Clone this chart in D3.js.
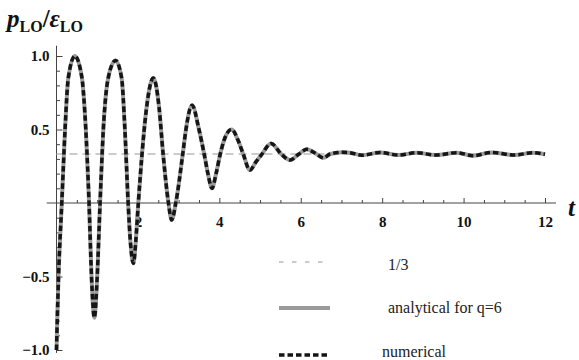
<!DOCTYPE html>
<html>
<head>
<meta charset="utf-8">
<script src="https://cdn.jsdelivr.net/npm/d3@7"></script>
<style>
  body { margin: 0; background: #fff; }
  text { font-family: "Liberation Serif", "DejaVu Serif", serif; }
</style>
</head>
<body>
<div id="chart"></div>
<script>
// values
const tValues = [0, 0.02, 0.05, 0.13, 0.21, 0.29, 0.45, 0.62, 0.72, 0.80, 0.86, 0.93,
  1.00, 1.07, 1.15, 1.27, 1.45, 1.60, 1.68, 1.76, 1.82, 1.89, 1.95, 2.01, 2.10, 2.20,
  2.38, 2.52, 2.62, 2.75, 2.83, 2.93, 3.10, 3.18, 3.33, 3.50, 3.63, 3.72, 3.82, 3.92,
  4.02, 4.12, 4.30, 4.47, 4.59, 4.75, 4.90, 5.04, 5.27, 5.53, 5.74, 5.94, 6.15, 6.35,
  6.56, 6.72, 7.05, 7.21, 7.50, 7.95, 8.40, 8.85, 9.30, 9.83, 10.24, 10.69, 11.25,
  11.70, 12.00];
const analyticalValues = [-1.00, -0.78, -0.50, 0.00, 0.50, 0.85, 1.00, 0.86, 0.50, 0.00, -0.50, -0.78,
  -0.50, 0.00, 0.50, 0.85, 0.97, 0.85, 0.50, 0.00, -0.28, -0.41, -0.25, 0.00, 0.33, 0.62,
  0.85, 0.65, 0.33, 0.00, -0.115, 0.00, 0.33, 0.50, 0.665, 0.50, 0.33, 0.20, 0.10, 0.20,
  0.33, 0.43, 0.50, 0.42, 0.33, 0.224, 0.28, 0.33, 0.405, 0.33, 0.292, 0.33, 0.365, 0.34,
  0.307, 0.333, 0.345, 0.342, 0.325, 0.343, 0.326, 0.342, 0.326, 0.342, 0.322, 0.344, 0.326,
  0.342, 0.332];
// the numerical curve lies on top of the analytical one
const numericalValues = analyticalValues.slice();
const limitValue = 1 / 3;

const xTicks = [2, 4, 6, 8, 10, 12];
const yTicks = [-1, -0.5, 0.5, 1];
const legendLabels = ["1/3", "analytical for q=6", "numerical"];

const width = 579, height = 360;
const serif = "'Liberation Serif', 'DejaVu Serif', serif";

const svg = d3.select("#chart").append("svg")
  .attr("width", width)
  .attr("height", height);

const x = d3.scaleLinear().domain([0, 12]).range([56.5, 545]);
const y = d3.scaleLinear().domain([-1, 1]).range([350, 56]);

// x axis (ticks point up, labels below)
const xMinor = d3.range(0.5, 12.01, 0.5).filter(d => !xTicks.includes(d));
svg.append("line")
  .attr("x1", x(-0.24)).attr("x2", x(12.27))
  .attr("y1", y(0)).attr("y2", y(0))
  .attr("stroke", "#444").attr("stroke-width", 1);

svg.append("g")
  .attr("transform", `translate(0,${y(0)})`)
  .call(d3.axisBottom(x).tickValues(xTicks).tickSize(-5).tickPadding(13)
    .tickFormat(d3.format("d")));
svg.append("g")
  .attr("transform", `translate(0,${y(0)})`)
  .call(d3.axisBottom(x).tickValues(xMinor).tickSize(-3).tickFormat(""));

// y axis (ticks point right, labels left)
const yMinor = d3.range(-1, 1.001, 0.1).map(d => Math.round(d * 10) / 10)
  .filter(d => d !== 0 && !yTicks.includes(d));
svg.append("line")
  .attr("x1", x(0)).attr("x2", x(0))
  .attr("y1", y(1.07)).attr("y2", y(-1.02))
  .attr("stroke", "#444").attr("stroke-width", 1);

svg.append("g")
  .attr("transform", `translate(${x(0)},0)`)
  .call(d3.axisLeft(y).tickValues(yTicks).tickSize(-6).tickPadding(7)
    .tickFormat(d3.format(".1f")));
svg.append("g")
  .attr("transform", `translate(${x(0)},0)`)
  .call(d3.axisLeft(y).tickValues(yMinor).tickSize(-3.5).tickFormat(""));

svg.selectAll(".domain").remove();
svg.selectAll("g").attr("font-family", serif);
svg.selectAll(".tick line").attr("stroke", "#444");
svg.selectAll(".tick text")
  .attr("font-family", serif)
  .style("font-family", serif)
  .style("font-size", "15px")
  .style("font-weight", "bold")
  .attr("fill", "#111");

// axis labels
const title = svg.append("text")
  .attr("x", 7).attr("y", 27)
  .style("font-size", "25px").style("font-weight", "bold")
  .attr("fill", "#111");
title.append("tspan").text("p").style("font-style", "italic");
title.append("tspan").text("LO").style("font-size", "16px").attr("dy", 5);
title.append("tspan").text("/").attr("dy", -5);
title.append("tspan").text("ε").style("font-style", "italic");
title.append("tspan").text("LO").style("font-size", "16px").attr("dy", 5);

svg.append("text")
  .attr("x", 568).attr("y", 216)
  .style("font-size", "25px").style("font-weight", "bold").style("font-style", "italic")
  .attr("fill", "#111")
  .text("t");

// 1/3 limit line
svg.append("line")
  .attr("x1", x(0)).attr("x2", x(12))
  .attr("y1", y(limitValue)).attr("y2", y(limitValue))
  .attr("stroke", "#bbb").attr("stroke-width", 1.3)
  .attr("stroke-dasharray", "8,5");

const line = d3.line()
  .x((d, i) => x(tValues[i]))
  .y(d => y(d))
  .curve(d3.curveMonotoneX);

svg.append("path")
  .datum(analyticalValues)
  .attr("fill", "none")
  .attr("stroke", "#9a9a9a")
  .attr("stroke-width", 4)
  .attr("d", line);

svg.append("path")
  .datum(numericalValues)
  .attr("fill", "none")
  .attr("stroke", "#151515")
  .attr("stroke-width", 3.5)
  .attr("stroke-dasharray", "5.5,3")
  .attr("d", line);

// legend
const legendRows = [
  { y: 262, textX: 388, textY: 270, stroke: "#bbb", width: 1.3, dash: "4.5,8.5" },
  { y: 308, textX: 388, textY: 313, stroke: "#9a9a9a", width: 4, dash: null },
  { y: 355, textX: 382, textY: 357, stroke: "#151515", width: 3.5, dash: "5.5,3" }
];
legendRows.forEach((r, i) => {
  svg.append("line")
    .attr("x1", 279).attr("x2", 330)
    .attr("y1", r.y).attr("y2", r.y)
    .attr("stroke", r.stroke).attr("stroke-width", r.width)
    .attr("stroke-dasharray", r.dash);
  svg.append("text")
    .attr("x", r.textX).attr("y", r.textY)
    .style("font-size", "16px")
    .attr("fill", "#222")
    .text(legendLabels[i]);
});
</script>
</body>
</html>
